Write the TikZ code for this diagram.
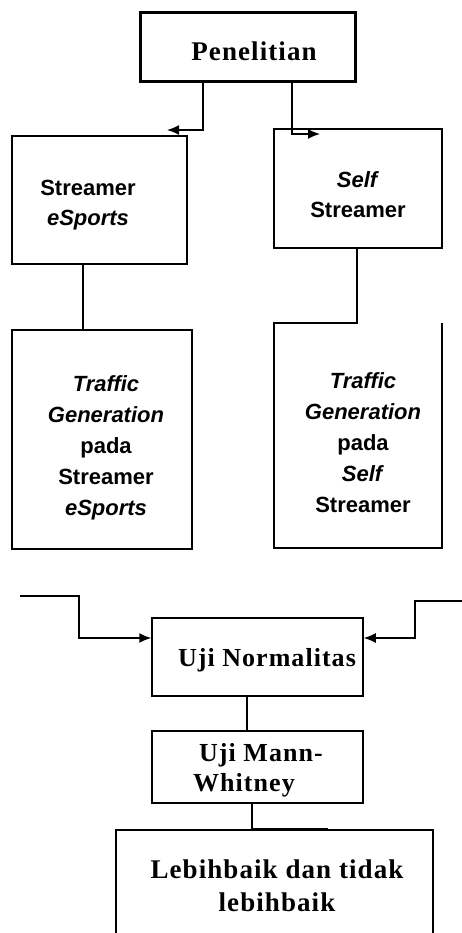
\documentclass[tikz,border=0pt]{standalone}
\usepackage{fontspec}
\setmainfont{Liberation Serif}
\newfontfamily\serifls[LetterSpace=4]{Liberation Serif}
\newfontfamily\sansf{Liberation Sans}
\usetikzlibrary{arrows.meta}
\tikzset{
  box/.style={draw, line width=1.5pt, inner sep=0pt},
  hbox/.style={inner sep=0pt},
  conn/.style={line width=1.5pt, -{Latex[length=12pt,width=10pt]}},
  link/.style={line width=1.5pt},
  serift/.style={font=\fontsize{26}{30}\selectfont\serifls\bfseries, align=center, inner sep=0pt},
  sanst/.style={font=\fontsize{22}{31}\selectfont\sansf\bfseries, align=center, inner sep=0pt}
}
\begin{document}
\begin{tikzpicture}[x=1pt,y=-1pt]
\path[use as bounding box, fill=white] (0,0) rectangle (462,933);

% top
\node[box, line width=3pt, minimum width=215pt, minimum height=69pt] (pen) at (247.5,47.5) {};
\node[serift, font=\fontsize{27}{30}\selectfont\serifls\bfseries] (penT) at (254,51) {Penelitian};

% second row
\node[box, minimum width=175pt, minimum height=128pt] (se) at (99.5,200) {};
\node[sanst, font=\fontsize{22}{30}\selectfont\sansf\bfseries] (seT) at (88,205) {Streamer\\\textit{eSports}};
\node[box, minimum width=168pt, minimum height=119pt] (ss) at (358,188.5) {};
\node[sanst, font=\fontsize{22}{30}\selectfont\sansf\bfseries] (ssT) at (358,195) {\textit{Self}\\Streamer};

\coordinate (a1) at (167,130);
\coordinate (a2) at (320,134);
\draw[conn] ([xshift=-44.5pt]pen.south) |- (a1);
\draw[conn] ([xshift=44.5pt]pen.south) |- (a2);

% third row
\node[box, minimum width=180pt, minimum height=219pt] (tse) at (102,439.5) {};
\node[sanst] (tseT) at (106,448) {\textit{Traffic}\\\textit{Generation}\\pada\\Streamer\\\textit{eSports}};
\node[hbox, minimum width=168pt, minimum height=225pt] (tss) at (358,435.5) {};
\node[sanst] (tssT) at (363,443) {\textit{Traffic}\\\textit{Generation}\\pada\\\textit{Self}\\Streamer};

\coordinate (c1) at ([xshift=-16.5pt]se.south);
\draw[link] (c1) -- (c1 |- tse.north);
\coordinate (c2) at ([xshift=-1pt]ss.south);
\draw[link] (c2) -- (c2 |- tss.north) -- (tss.north west) -- (tss.south west) -- (tss.south east) -- (tss.north east);

% tests
\node[box, minimum width=211pt, minimum height=78pt] (un) at (257.5,657) {};
\node[serift] (unT) at (267,660) {Uji Normalitas};
\node[box, minimum width=211pt, minimum height=72pt] (umw) at (257.5,767) {};
\node[serift, align=left, anchor=west] (umwT) at (193,770) {\hspace*{6pt}Uji Mann-\\Whitney};

\coordinate (l0) at (20,596);
\coordinate (r0) at (462,601);
\coordinate (unin) at ([yshift=19pt]un.west);
\coordinate (unin2) at ([yshift=19pt]un.east);
\draw[conn] (l0) -- (79,596) |- (unin);
\draw[conn] (r0) -- (415,601) |- (unin2);

\coordinate (c3) at ([xshift=-10.5pt]un.south);
\draw[link] (c3) -- (c3 |- umw.north);

% result
\node[hbox, minimum width=317pt, minimum height=103pt] (lb) at (274.5,881.5) {};
\draw[link] (lb.south west) -- (lb.north west) -- (lb.north east) -- (lb.south east);
\node[serift, font=\fontsize{27}{33}\selectfont\serifls\bfseries] (lbT) at (277,886) {Lebihbaik dan tidak\\lebihbaik};

\coordinate (c4) at ([xshift=-5.5pt]umw.south);
\draw[link] (c4) -- (c4 |- lb.north);
\draw[line width=3pt] (c4 |- lb.north) -- ++(76,0);
\end{tikzpicture}
\end{document}
